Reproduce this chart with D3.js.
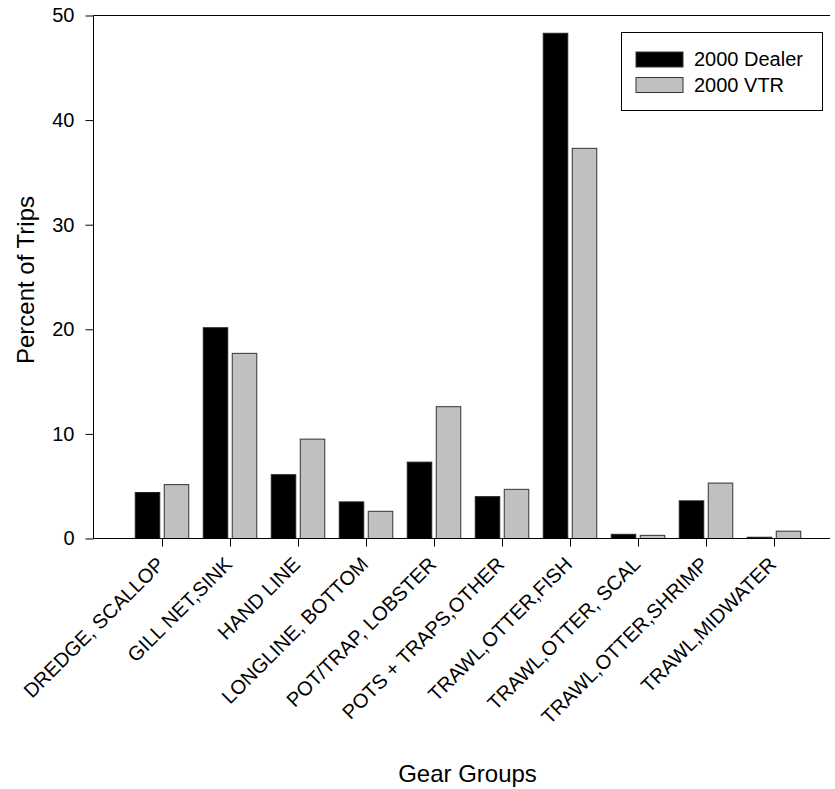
<!DOCTYPE html>
<html><head><meta charset="utf-8">
<script src="https://cdn.jsdelivr.net/npm/d3@7"></script>
<style>body{margin:0;background:#fff}svg{display:block}text{font-family:"Liberation Sans",Arial,sans-serif}</style>
</head><body>
<svg id="c" width="835" height="789"></svg>
<script>
const categories = ["DREDGE, SCALLOP","GILL NET,SINK","HAND LINE","LONGLINE, BOTTOM","POT/TRAP, LOBSTER","POTS + TRAPS,OTHER","TRAWL,OTTER,FISH","TRAWL,OTTER, SCAL","TRAWL,OTTER,SHRIMP","TRAWL,MIDWATER"];
const dealer = [4.4, 20.15, 6.1, 3.5, 7.3, 4.0, 48.3, 0.4, 3.6, 0.12];
const vtr = [5.15, 17.7, 9.5, 2.6, 12.6, 4.7, 37.3, 0.3, 5.3, 0.7];
const seriesNames = ["2000 Dealer","2000 VTR"];
const seriesColors = ["#000000","#c0c0c0"];
const yTicks = [0,10,20,30,40,50];

const svg = d3.select("#c");
const mLeft = 93.5, mRight = 830, mTop = 15.5, mBottom = 538.5;
const x = d3.scalePoint().domain(categories).range([162, 774]);
const y = d3.scaleLinear().domain([0,50]).range([mBottom, mTop]);
const barW = 24.5, gap = 4.5;

const series = [dealer, vtr];
series.forEach((vals, si) => {
  svg.append("g").selectAll("rect").data(vals).join("rect")
    .attr("x", (d,i) => si === 0 ? x(categories[i]) - gap/2 - barW : x(categories[i]) + gap/2)
    .attr("y", d => y(d))
    .attr("width", barW)
    .attr("height", d => y(0) - y(d))
    .attr("fill", seriesColors[si])
    .attr("stroke", si === 0 ? "#222" : "#333").attr("stroke-width", 1);
});

const yAxis = d3.axisLeft(y).tickValues(yTicks).tickSize(8).tickSizeOuter(0).tickPadding(11);
const gy = svg.append("g").attr("transform", `translate(${mLeft},0)`).call(yAxis);
gy.select(".domain").remove();
gy.append("line").attr("x1",0).attr("x2",0).attr("y1",mTop).attr("y2",mBottom).attr("stroke","#000");
gy.selectAll(".tick text").attr("font-size", 20).attr("fill","#000").style("font-family","Liberation Sans, Arial, sans-serif");
gy.selectAll(".tick line").attr("stroke","#000");

const xAxis = d3.axisBottom(x).tickSize(8).tickSizeOuter(0);
const gx = svg.append("g").attr("transform", `translate(0,${mBottom})`).call(xAxis);
gx.select(".domain").remove();
gx.append("line").attr("x1",mLeft).attr("x2",mRight).attr("y1",0).attr("y2",0).attr("stroke","#000");
gx.selectAll(".tick line").attr("stroke","#000");
gx.selectAll(".tick text")
  .attr("font-size", 20).attr("fill","#000").style("font-family","Liberation Sans, Arial, sans-serif")
  .attr("text-anchor","end").attr("dy", 0).attr("y", 0)
  .attr("transform","translate(3,27) rotate(-45)");

svg.append("line").attr("x1",mLeft).attr("x2",mRight).attr("y1",mTop).attr("y2",mTop).attr("stroke","#000");

svg.append("text").attr("x", 467.5).attr("y", 782).attr("text-anchor","middle").attr("font-size",24).text("Gear Groups");
svg.append("text").attr("transform","translate(34,280) rotate(-90)").attr("text-anchor","middle").attr("font-size",24).text("Percent of Trips");

const lg = svg.append("g");
lg.append("rect").attr("x",621.5).attr("y",32.5).attr("width",201).attr("height",78).attr("fill","#fff").attr("stroke","#000");
seriesNames.forEach((n,i) => {
  lg.append("rect").attr("x",636).attr("y",52 + i*25.5).attr("width",47).attr("height",15).attr("fill",seriesColors[i]).attr("stroke","#333").attr("stroke-width",1);
  lg.append("text").attr("x",694).attr("y",66 + i*25.5).attr("font-size",20).text(n);
});
</script>
</body></html>
